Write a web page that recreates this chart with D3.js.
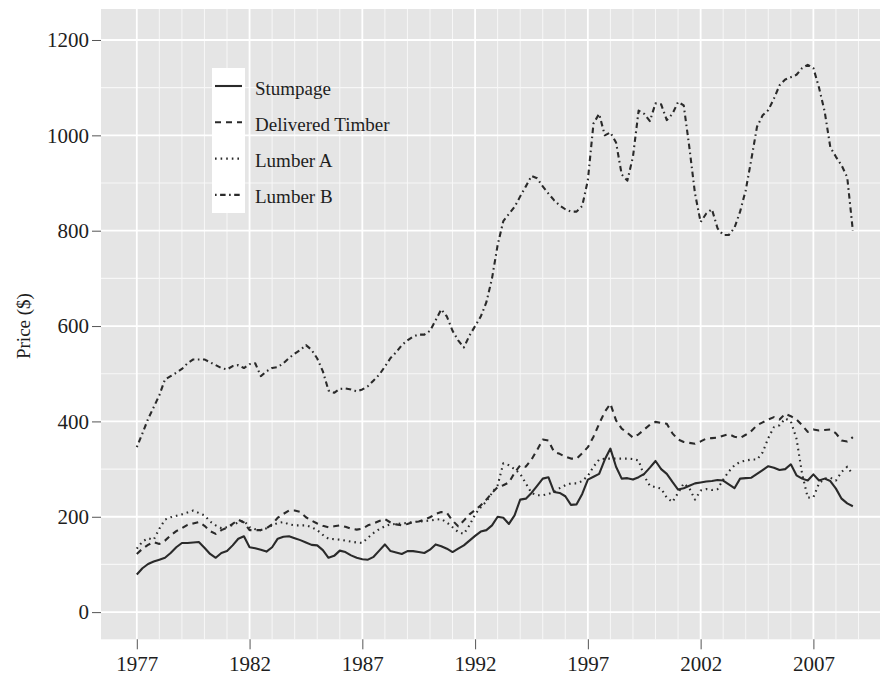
<!DOCTYPE html>
<meta charset="utf-8">
<script src="https://cdnjs.cloudflare.com/ajax/libs/d3/7.8.5/d3.min.js"></script>
<style>
body { margin: 0; background: #fff; }
text { font-family: "Liberation Serif", "Times New Roman", serif; }
</style>
<body>
<script>

// quarterly observations, 1977 Q1 .. 2008 Q4
var firstYear = 1977, lastYear = 2008.75;
var quarters = d3.range(firstYear, lastYear + 0.01, 0.25);

var stumpage = [
  79, 92, 101, 106, 110, 114, 124, 136, 145, 145, 146, 147, 135, 122, 114, 124,
  128, 140, 154, 159, 136, 134, 131, 127, 136, 154, 158, 159, 155, 151, 146, 141,
  140, 130, 114, 118, 129, 126, 119, 114, 111, 110, 116, 129, 142, 128, 125, 122,
  128, 128, 126, 124, 131, 142, 138, 133, 126, 133, 140, 150, 160, 169, 172, 182,
  200, 198, 185, 203, 236, 238, 250, 265, 280, 283, 252, 250, 243, 225, 226, 248,
  278, 284, 290, 320, 343, 305, 280, 281, 278, 283, 290, 303, 317, 300, 290, 273,
  257, 260, 265, 270, 272, 274, 275, 277, 276, 268, 260, 280, 281, 282, 290, 298,
  306, 303, 298, 300, 310, 287, 280, 276, 289, 276, 280, 275, 259, 238, 228, 222
];

var deliveredTimber = [
  122, 133, 141, 147, 143, 150, 161, 170, 176, 183, 186, 189, 181, 170, 164, 172,
  177, 185, 194, 188, 172, 172, 172, 176, 184, 198, 206, 213, 213, 210, 199, 192,
  186, 181, 178, 180, 182, 179, 175, 173, 175, 182, 186, 191, 195, 188, 184, 182,
  185, 189, 190, 194, 199, 206, 210, 208, 192, 180, 192, 205, 214, 224, 236, 250,
  262, 266, 272, 292, 308, 305, 320, 340, 362, 360, 336, 332, 326, 322, 322, 333,
  346, 368, 395, 420, 437, 402, 385, 376, 366, 373, 383, 393, 399, 397, 395, 375,
  362, 357, 355, 353, 358, 364, 365, 366, 370, 373, 368, 365, 372, 380, 392, 398,
  404, 409, 404, 416, 411, 404, 392, 378, 383, 381, 382, 383, 375, 360, 358, 367
];

var lumberA = [
  133, 148, 155, 152, 175, 194, 199, 202, 205, 209, 213, 208, 203, 190, 182, 176,
  178, 183, 188, 192, 178, 174, 172, 176, 182, 187, 189, 184, 182, 182, 182, 178,
  172, 162, 154, 153, 152, 150, 148, 146, 145, 156, 166, 174, 180, 184, 185, 186,
  187, 189, 190, 191, 192, 194, 195, 188, 178, 168, 164, 182, 205, 220, 232, 250,
  266, 312, 308, 300, 290, 270, 250, 245, 245, 248, 252, 260, 266, 270, 270, 275,
  286, 305, 320, 322, 322, 322, 322, 322, 321, 318, 285, 265, 262, 259, 240, 231,
  250, 270, 260, 236, 255, 258, 256, 258, 278, 295, 308, 315, 318, 320, 320, 335,
  365, 388, 392, 406, 400, 364, 290, 240, 241, 270, 280, 282, 276, 294, 305, 289
];

var lumberB = [
  346, 375, 405, 430, 455, 488, 495, 502, 510, 522, 530, 530, 530, 524, 518, 512,
  509, 516, 518, 512, 520, 522, 495, 505, 512, 514, 522, 533, 542, 550, 560, 550,
  532, 505, 465, 460, 468, 469, 467, 463, 467, 474, 486, 498, 515, 533, 545, 560,
  570, 578, 582, 582, 590, 612, 635, 620, 590, 570, 555, 580, 600, 620, 650, 700,
  770, 820, 835, 850, 872, 893, 915, 910, 893, 878, 864, 853, 845, 840, 840, 852,
  906, 1025, 1045, 1000, 1006, 985, 918, 905, 955, 1052, 1045, 1030, 1067, 1065, 1032, 1045,
  1070, 1063, 975, 878, 818, 836, 845, 805, 791, 791, 806, 840, 885, 950, 1018, 1042,
  1053, 1077, 1105, 1117, 1122, 1127, 1141, 1148, 1141, 1100, 1050, 975, 955, 937, 912, 800
];

var seriesNames = ["Stumpage", "Delivered Timber", "Lumber A", "Lumber B"];
var seriesValues = [stumpage, deliveredTimber, lumberA, lumberB];
var dashes = [null, "6,5", "1.6,4", "1.6,3.5,5.5,3.5"];

var xTicks = [1977, 1982, 1987, 1992, 1997, 2002, 2007];
var yTicks = [0, 200, 400, 600, 800, 1000, 1200];

var width = 880, height = 680;
var panel = {left: 101, top: 9, bottom: 639.3};

var svg = d3.select("body").append("svg")
  .attr("width", width)
  .attr("height", height);

// 5% expansion on x like ggplot
var pad = 0.05 * (lastYear - firstYear);
var x = d3.scaleLinear()
  .domain([firstYear - pad, lastYear + pad])
  .range([panel.left, panel.left + (lastYear - firstYear + 2 * pad) * 22.553]);

var y = d3.scaleLinear()
  .domain([-57, 1265])
  .range([panel.bottom, panel.top]);

svg.append("clipPath").attr("id", "panel")
  .append("rect")
  .attr("x", x.range()[0]).attr("y", panel.top)
  .attr("width", x.range()[1] - x.range()[0])
  .attr("height", panel.bottom - panel.top);

svg.append("rect")
  .attr("x", x.range()[0]).attr("y", panel.top)
  .attr("width", x.range()[1] - x.range()[0])
  .attr("height", panel.bottom - panel.top)
  .style("fill", "#e5e5e5");

var grid = svg.append("g").attr("clip-path", "url(#panel)");

// minor grid: each year, and half way between y ticks
var minorYears = d3.range(1978, 2010).filter(function(d) { return xTicks.indexOf(d) < 0; });
grid.selectAll(".vminor").data(minorYears).enter().append("line")
  .attr("x1", function(d) { return x(d); }).attr("x2", function(d) { return x(d); })
  .attr("y1", panel.top).attr("y2", panel.bottom)
  .style("stroke", "#f7f7f7").style("stroke-width", 1);

grid.selectAll(".hminor").data(d3.range(100, 1200, 200)).enter().append("line")
  .attr("x1", x.range()[0]).attr("x2", x.range()[1])
  .attr("y1", function(d) { return y(d); }).attr("y2", function(d) { return y(d); })
  .style("stroke", "#f7f7f7").style("stroke-width", 1.2);

grid.selectAll(".vmajor").data(xTicks).enter().append("line")
  .attr("x1", function(d) { return x(d); }).attr("x2", function(d) { return x(d); })
  .attr("y1", panel.top).attr("y2", panel.bottom)
  .style("stroke", "#fff").style("stroke-width", 1.8);

grid.selectAll(".hmajor").data(yTicks).enter().append("line")
  .attr("x1", x.range()[0]).attr("x2", x.range()[1])
  .attr("y1", function(d) { return y(d); }).attr("y2", function(d) { return y(d); })
  .style("stroke", "#fff").style("stroke-width", 1.8);

// axes
var xAxis = svg.append("g")
  .attr("transform", "translate(0," + panel.bottom + ")")
  .call(d3.axisBottom(x).tickValues(xTicks).tickFormat(d3.format("d")).tickSize(10).tickPadding(7));
var yAxis = svg.append("g")
  .attr("transform", "translate(" + x.range()[0] + ",0)")
  .call(d3.axisLeft(y).tickValues(yTicks).tickFormat(d3.format("d")).tickSize(9).tickPadding(3));

[xAxis, yAxis].forEach(function(a) {
  a.select(".domain").remove();
  a.selectAll(".tick line").style("stroke", "#555").style("stroke-width", 1);
  a.selectAll(".tick text")
    .style("font-family", "'Liberation Serif', serif")
    .style("font-size", "21px")
    .style("fill", "#1e1e1e");
});

svg.append("text")
  .attr("transform", "translate(23," + y(600) + ") rotate(-90)")
  .style("text-anchor", "middle")
  .attr("dominant-baseline", "central")
  .style("font-size", "19px")
  .style("fill", "#1e1e1e")
  .text("Price ($)");

// lines
var line = d3.line()
  .x(function(d, i) { return x(quarters[i]); })
  .y(function(d) { return y(d); });

var lines = svg.append("g").attr("clip-path", "url(#panel)");
seriesValues.forEach(function(vals, k) {
  lines.append("path")
    .datum(vals)
    .attr("d", line)
    .style("fill", "none")
    .style("stroke", "#2a2a2a")
    .style("stroke-width", 2.1)
    .style("stroke-linejoin", "round")
    .style("stroke-dasharray", dashes[k]);
});

// legend: white key column, labels sit on the panel
var legend = svg.append("g").attr("transform", "translate(212,68)");
legend.append("rect")
  .attr("width", 33).attr("height", 145)
  .style("fill", "#fff");

var item = legend.selectAll(".item").data(seriesNames).enter().append("g")
  .attr("transform", function(d, i) { return "translate(0," + (18 + i * 36.3) + ")"; });
item.append("line")
  .attr("x1", 3).attr("x2", 30)
  .style("stroke", "#2a2a2a")
  .style("stroke-width", 2.1)
  .style("stroke-dasharray", function(d, i) { return dashes[i]; });
item.append("text")
  .attr("x", 43).attr("y", 2)
  .attr("dominant-baseline", "central")
  .style("font-size", "19px")
  .style("fill", "#1e1e1e")
  .text(function(d) { return d; });

</script>
</body>
</html>
